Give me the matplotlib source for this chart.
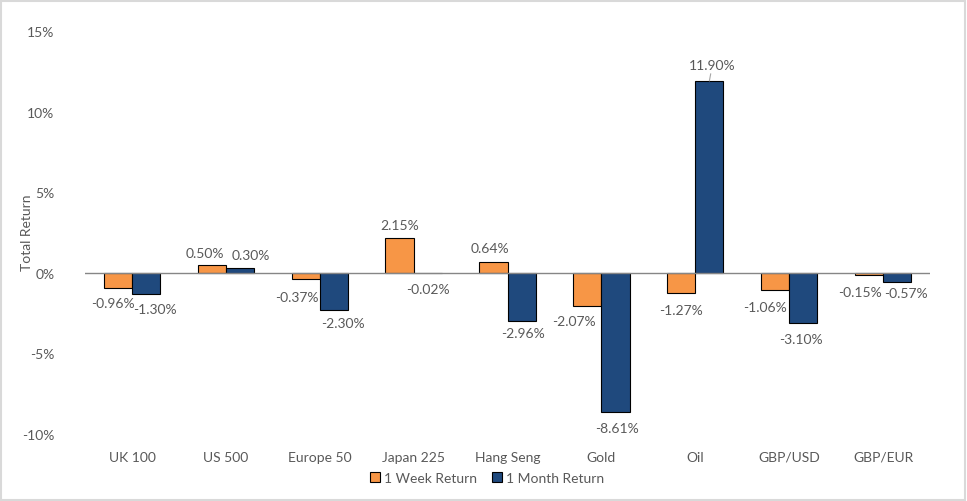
import numpy as np
import matplotlib.pyplot as plt
from matplotlib.patches import Rectangle

plt.rcParams['font.family'] = ['Lato', 'DejaVu Sans']

categories = ["UK 100", "US 500", "Europe 50", "Japan 225", "Hang Seng",
              "Gold", "Oil", "GBP/USD", "GBP/EUR"]
week_return = [-0.96, 0.50, -0.37, 2.15, 0.64, -2.07, -1.27, -1.06, -0.15]
month_return = [-1.30, 0.30, -2.30, -0.02, -2.96, -8.61, 11.90, -3.10, -0.57]

# label nudges in pixels (dx, dy) from the bar end, picked by eye
week_offsets = [(-5, -15), (-7, 12), (-9, -18), (0, 13), (-3, 14),
                (-13, -15), (0, -17), (-10, -17), (-9, -17)]
month_offsets = [(9, -15), (11, 13), (9, -13), (0, -16), (1, -12),
                 (2, -16), (3, 16), (-2, -16), (9, -11)]

ORANGE = "#F79646"
BLUE = "#1F497D"
GREY = "#595959"


def main():
    fig = plt.figure(figsize=(9.67, 5.02), dpi=100)
    ax = fig.add_axes([85 / 967, 67 / 502, 845 / 967, 403 / 502])

    x = np.arange(len(categories))
    w = 0.3
    ax.bar(x - w / 2, week_return, w, color=ORANGE, edgecolor="black",
           linewidth=0.8, label="1 Week Return", zorder=2)
    ax.bar(x + w / 2, month_return, w, color=BLUE, edgecolor="black",
           linewidth=0.8, label="1 Month Return", zorder=2)

    ax.axhline(0, color="#868686", linewidth=1, zorder=3)

    for i in range(len(categories)):
        for xs, vals, offs in ((x - w / 2, week_return, week_offsets),
                               (x + w / 2, month_return, month_offsets)):
            v = vals[i]
            dx, dy = offs[i]
            if categories[i] == "Oil" and v > 0:
                ax.annotate(f"{v:.2f}%", (xs[i], v), xytext=(dx, dy),
                            textcoords="offset pixels", ha="center", va="center",
                            fontsize=10, color=GREY,
                            arrowprops=dict(arrowstyle="-", color="#A6A6A6",
                                            linewidth=0.8, shrinkA=6, shrinkB=0))
            else:
                ax.annotate(f"{v:.2f}%", (xs[i], v), xytext=(dx, dy),
                            textcoords="offset pixels", ha="center", va="center",
                            fontsize=10, color=GREY)

    ax.set_xlim(-0.5, len(categories) - 0.5)
    ax.set_ylim(-10, 15)
    ax.set_yticks([-10, -5, 0, 5, 10, 15])
    ax.set_yticklabels(["-10%", "-5%", "0%", "5%", "10%", "15%"])
    ax.set_xticks(x)
    ax.set_xticklabels(categories)
    ax.tick_params(axis="both", length=0, labelsize=10, colors=GREY)
    ax.tick_params(axis="x", pad=12)
    ax.tick_params(axis="y", pad=22)
    for s in ax.spines.values():
        s.set_visible(False)

    fig.text(27 / 967, 1 - 233 / 502, "Total Return", rotation=90,
             ha="center", va="center", fontsize=10, color=GREY)

    fig.legend(loc="center", bbox_to_anchor=(487 / 967, 1 - 479 / 502),
               ncol=2, frameon=False, fontsize=10, labelcolor=GREY,
               handlelength=0.7, handleheight=0.7, handletextpad=0.3,
               columnspacing=1.1)

    fig.patches.append(Rectangle((0.001, 0.002), 0.997, 0.995,
                                 transform=fig.transFigure, fill=False,
                                 edgecolor="#D9D9D9", linewidth=1.5))
    fig.savefig("out.png", dpi=100)


if __name__ == "__main__":
    main()
